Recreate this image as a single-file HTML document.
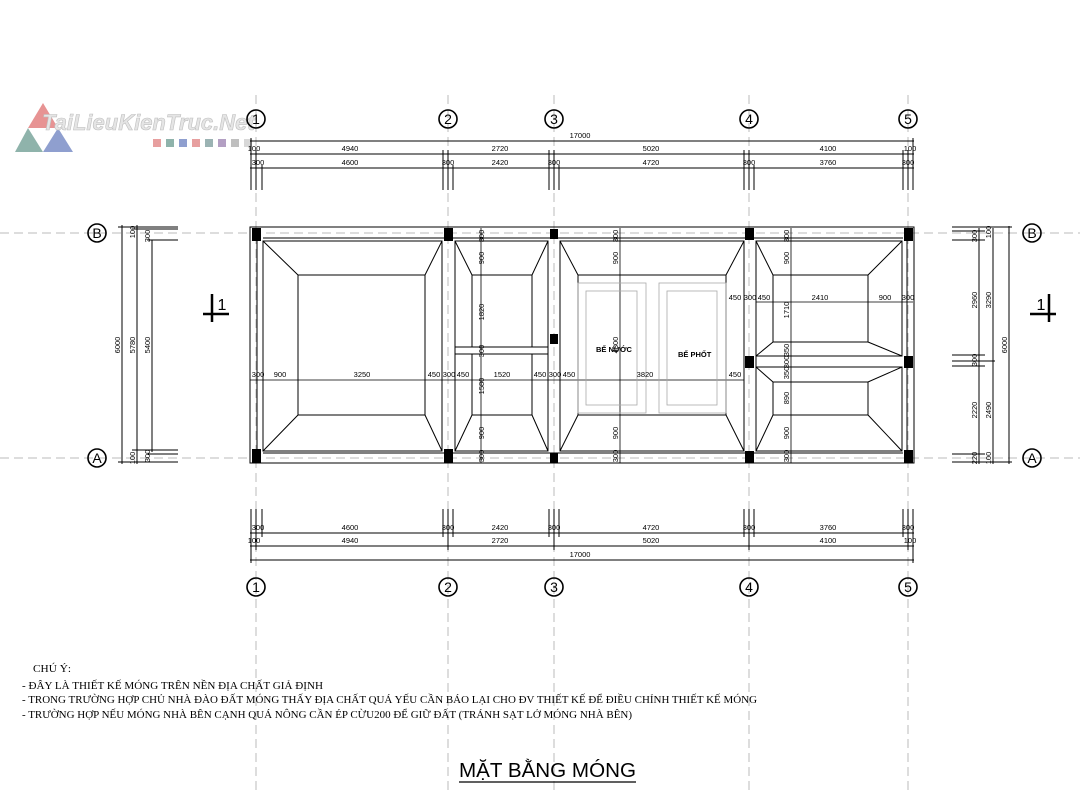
<!DOCTYPE html>
<html><head><meta charset="utf-8"><style>
html,body{margin:0;padding:0;background:#fff;width:1080px;height:793px;overflow:hidden}
svg{font-family:"Liberation Sans",sans-serif}
.serif text{font-family:"Liberation Serif",serif}
</style></head><body>
<svg width="1080" height="793" viewBox="0 0 1080 793" xmlns="http://www.w3.org/2000/svg">
<g stroke="#bbb" stroke-width="1" stroke-dasharray="9,5" fill="none">
<line x1="256" y1="95" x2="256" y2="793"/><line x1="448" y1="95" x2="448" y2="793"/>
<line x1="554" y1="95" x2="554" y2="793"/><line x1="749" y1="95" x2="749" y2="793"/>
<line x1="908" y1="95" x2="908" y2="793"/>
<line x1="0" y1="233" x2="1080" y2="233"/><line x1="0" y1="458" x2="1080" y2="458"/>
</g>
<g opacity="0.75">
<polygon points="43,103 58,128 28,128" fill="#e07070"/>
<polygon points="28,128 43,152 15,152" fill="#6a9a90"/>
<polygon points="58,128 73,152 43,152" fill="#6a80c0"/>
<text x="42" y="130" font-size="22" font-style="italic" font-weight="bold" fill="#ddd" stroke="#aaa" stroke-width="0.6">TaiLieuKienTruc.Net</text>
<rect x="153" y="139" width="8" height="8" fill="#e08080"/><rect x="166" y="139" width="8" height="8" fill="#6a9a90"/>
<rect x="179" y="139" width="8" height="8" fill="#6a80c0"/><rect x="192" y="139" width="8" height="8" fill="#e08080"/>
<rect x="205" y="139" width="8" height="8" fill="#7a9a9a"/><rect x="218" y="139" width="8" height="8" fill="#9a80b0"/>
<rect x="231" y="139" width="8" height="8" fill="#aaa"/><rect x="244" y="139" width="8" height="8" fill="#ccc"/>
</g>
<g fill="none" stroke="#000" stroke-width="1">
<g stroke-width="1.6">
<circle cx="256" cy="119" r="9"/><circle cx="448" cy="119" r="9"/><circle cx="554" cy="119" r="9"/><circle cx="749" cy="119" r="9"/><circle cx="908" cy="119" r="9"/>
<circle cx="256" cy="587" r="9"/><circle cx="448" cy="587" r="9"/><circle cx="554" cy="587" r="9"/><circle cx="749" cy="587" r="9"/><circle cx="908" cy="587" r="9"/>
<circle cx="97" cy="233" r="9"/><circle cx="97" cy="458" r="9"/><circle cx="1032" cy="233" r="9"/><circle cx="1032" cy="458" r="9"/>
</g>
<line x1="250" y1="141" x2="914" y2="141"/><line x1="250" y1="154" x2="914" y2="154"/><line x1="250" y1="168" x2="914" y2="168"/>
<line x1="250" y1="533" x2="914" y2="533"/><line x1="250" y1="546" x2="914" y2="546"/><line x1="250" y1="560" x2="914" y2="560"/>
<path d="M251 138V190M256 150V190M262 165V190 M443 150V190M448 150V190M453 165V190 M549 150V190M554 150V190M559 165V190 M744 150V190M749 150V190M754 165V190 M903 150V190M908 150V190M913 138V190"/>
<path d="M251 509V563M256 509V550M262 509V537 M443 509V537M448 509V550M453 509V537 M549 509V537M554 509V550M559 509V537 M744 509V537M749 509V550M754 509V537 M903 509V537M908 509V550M913 509V563"/>
<line x1="122" y1="225" x2="122" y2="464"/><line x1="137" y1="225" x2="137" y2="464"/><line x1="152" y1="240" x2="152" y2="452"/>
<path d="M118 227H178M132 229H178M148 240H178M132 450H178M118 462H178M148 454H178"/>
<line x1="979" y1="228" x2="979" y2="464"/><line x1="993" y1="228" x2="993" y2="464"/><line x1="1009" y1="226" x2="1009" y2="464"/>
<path d="M952 227H1012M952 231H985M952 240H985M952 355H985M952 361H995M952 366H985M952 454H985M952 462H1012"/>
<path d="M203 314H229M212 294V322" stroke-width="2.5"/>
<path d="M1030 314H1056M1049 294V322" stroke-width="2.5"/>
<rect x="250" y="227" width="664" height="236"/>
<path d="M263 238H903M263 453H903"/>
<path d="M442 241V451M455 241V451M548 241V451M560 241V451M744 241V451M756 241V451M257 234V456M907 234V456"/>
<path d="M455 347H548M455 354H548M756 356H902M756 367H902"/>
<rect x="263" y="241" width="179" height="210"/><rect x="298" y="275" width="127" height="140"/>
<path d="M263 241L298 275M442 241L425 275M263 451L298 415M442 451L425 415"/>
<rect x="455" y="241" width="93" height="106"/><path d="M472 347V275H532V347M455 241L472 275M548 241L532 275"/>
<rect x="455" y="354" width="93" height="97"/><path d="M472 354V415H532V354M455 451L472 415M548 451L532 415"/>
<rect x="560" y="241" width="184" height="210"/><rect x="578" y="275" width="148" height="140"/>
<path d="M560 241L578 275M744 241L726 275M560 451L578 415M744 451L726 415"/>
<rect x="756" y="241" width="146" height="115"/><rect x="773" y="275" width="95" height="67"/>
<path d="M756 241L773 275M902 241L868 275M756 356L773 342M902 356L868 342"/>
<rect x="756" y="367" width="146" height="84"/><rect x="773" y="382" width="95" height="33"/>
<path d="M756 367L773 382M902 367L868 382M756 451L773 415M902 451L868 415"/>
<path d="M250 380H744M756 302H913M481 228V463M620 228V463M791 228V463" stroke-width="0.8"/>
</g>
<g fill="none" stroke="#aaa" stroke-width="0.8">
<rect x="578" y="283" width="68" height="130"/><rect x="586" y="291" width="51" height="114"/>
<rect x="659" y="283" width="67" height="130"/><rect x="667" y="291" width="50" height="114"/>
</g>
<g fill="#000">
<rect x="252" y="228" width="9" height="13"/><rect x="444" y="228" width="9" height="13"/><rect x="550" y="229" width="8" height="10"/><rect x="745" y="228" width="9" height="12"/><rect x="904" y="228" width="9" height="13"/>
<rect x="252" y="449" width="9" height="14"/><rect x="444" y="449" width="9" height="14"/><rect x="550" y="453" width="8" height="10"/><rect x="745" y="451" width="9" height="12"/><rect x="904" y="450" width="9" height="13"/>
<rect x="550" y="334" width="8" height="10"/><rect x="745" y="356" width="9" height="12"/><rect x="904" y="356" width="9" height="12"/>
</g>
<g font-size="14" text-anchor="middle" fill="#000">
<text x="256" y="124">1</text><text x="448" y="124">2</text><text x="554" y="124">3</text><text x="749" y="124">4</text><text x="908" y="124">5</text>
<text x="256" y="592">1</text><text x="448" y="592">2</text><text x="554" y="592">3</text><text x="749" y="592">4</text><text x="908" y="592">5</text>
<text x="97" y="238">B</text><text x="97" y="463">A</text><text x="1032" y="238">B</text><text x="1032" y="463">A</text>
<text x="222" y="310" font-size="16">1</text><text x="1041" y="310" font-size="16">1</text>
</g>
<g font-size="7.5" text-anchor="middle" fill="#000">
<text x="580" y="138">17000</text>
<text x="350" y="151">4940</text><text x="500" y="151">2720</text><text x="651" y="151">5020</text><text x="828" y="151">4100</text><text x="254" y="151">100</text><text x="910" y="151">100</text>
<text x="350" y="165">4600</text><text x="500" y="165">2420</text><text x="651" y="165">4720</text><text x="828" y="165">3760</text>
<text x="258" y="165">300</text><text x="448" y="165">300</text><text x="554" y="165">300</text><text x="749" y="165">300</text><text x="908" y="165">300</text>
<text x="350" y="530">4600</text><text x="500" y="530">2420</text><text x="651" y="530">4720</text><text x="828" y="530">3760</text>
<text x="258" y="530">300</text><text x="448" y="530">300</text><text x="554" y="530">300</text><text x="749" y="530">300</text><text x="908" y="530">300</text>
<text x="350" y="543">4940</text><text x="500" y="543">2720</text><text x="651" y="543">5020</text><text x="828" y="543">4100</text><text x="254" y="543">100</text><text x="910" y="543">100</text>
<text x="580" y="557">17000</text>
<text x="258" y="377">300</text><text x="280" y="377">900</text><text x="362" y="377">3250</text><text x="434" y="377">450</text><text x="449" y="377">300</text><text x="463" y="377">450</text><text x="502" y="377">1520</text><text x="540" y="377">450</text><text x="555" y="377">300</text><text x="569" y="377">450</text><text x="645" y="377">3820</text><text x="735" y="377">450</text>
<text x="735" y="300">450</text><text x="750" y="300">300</text><text x="764" y="300">450</text><text x="820" y="300">2410</text><text x="885" y="300">900</text><text x="908" y="300">300</text>
</g>
<g font-size="7.5" text-anchor="middle" fill="#000">
<text transform="translate(120,345) rotate(-90)">6000</text><text transform="translate(135,345) rotate(-90)">5780</text><text transform="translate(150,345) rotate(-90)">5400</text>
<text transform="translate(135,232) rotate(-90)">100</text><text transform="translate(150,236) rotate(-90)">300</text>
<text transform="translate(135,458) rotate(-90)">100</text><text transform="translate(150,456) rotate(-90)">300</text>
<text transform="translate(977,300) rotate(-90)">2960</text><text transform="translate(991,300) rotate(-90)">3290</text><text transform="translate(1007,345) rotate(-90)">6000</text>
<text transform="translate(977,410) rotate(-90)">2220</text><text transform="translate(991,410) rotate(-90)">2490</text><text transform="translate(977,360) rotate(-90)">300</text>
<text transform="translate(977,236) rotate(-90)">300</text><text transform="translate(991,232) rotate(-90)">100</text>
<text transform="translate(977,458) rotate(-90)">220</text><text transform="translate(991,458) rotate(-90)">100</text>
<text transform="translate(484,236) rotate(-90)">300</text><text transform="translate(484,258) rotate(-90)">900</text><text transform="translate(484,312) rotate(-90)">1820</text><text transform="translate(484,351) rotate(-90)">300</text><text transform="translate(484,386) rotate(-90)">1580</text><text transform="translate(484,433) rotate(-90)">900</text><text transform="translate(484,456) rotate(-90)">300</text>
<text transform="translate(618,236) rotate(-90)">300</text><text transform="translate(618,258) rotate(-90)">900</text><text transform="translate(618,345) rotate(-90)">4800</text><text transform="translate(618,433) rotate(-90)">900</text><text transform="translate(618,456) rotate(-90)">300</text>
<text transform="translate(789,236) rotate(-90)">300</text><text transform="translate(789,258) rotate(-90)">900</text><text transform="translate(789,310) rotate(-90)">1710</text><text transform="translate(789,350) rotate(-90)">350</text><text transform="translate(789,362) rotate(-90)">300</text><text transform="translate(789,373) rotate(-90)">350</text><text transform="translate(789,398) rotate(-90)">890</text><text transform="translate(789,433) rotate(-90)">900</text><text transform="translate(789,456) rotate(-90)">300</text>
</g>
<g font-size="7.5" font-weight="bold" fill="#000">
<text x="596" y="352">BỂ NƯỚC</text><text x="678" y="357">BỂ PHỐT</text>
</g>
<g class="serif" font-size="11" fill="#000">
<text x="33" y="672" textLength="38" lengthAdjust="spacingAndGlyphs">CHÚ Ý:</text>
<text x="22" y="689" textLength="301" lengthAdjust="spacingAndGlyphs">- ĐÂY LÀ THIẾT KẾ MÓNG TRÊN NỀN ĐỊA CHẤT GIẢ ĐỊNH</text>
<text x="22" y="703" textLength="735" lengthAdjust="spacingAndGlyphs">- TRONG TRƯỜNG HỢP CHỦ NHÀ ĐÀO ĐẤT MÓNG THẤY ĐỊA CHẤT QUÁ YẾU CẦN BÁO LẠI CHO ĐV THIẾT KẾ ĐỂ ĐIỀU CHỈNH THIẾT KẾ MÓNG</text>
<text x="22" y="718" textLength="610" lengthAdjust="spacingAndGlyphs">- TRƯỜNG HỢP NẾU MÓNG NHÀ BÊN CẠNH QUÁ NÔNG CẦN ÉP CỪU200 ĐỂ GIỮ ĐẤT (TRÁNH SẠT LỞ MÓNG NHÀ BÊN)</text>
</g>
<text x="459" y="777" font-size="20" textLength="177" lengthAdjust="spacingAndGlyphs" fill="#000">MẶT BẰNG MÓNG</text>
<line x1="459" y1="782" x2="636" y2="782" stroke="#000" stroke-width="1.2"/>
</svg>
</body></html>
